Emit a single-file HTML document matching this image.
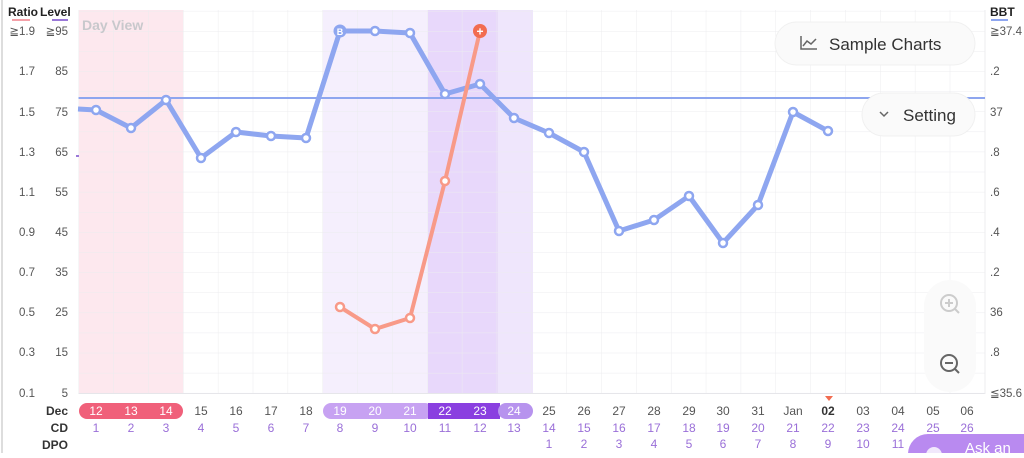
<!DOCTYPE html>
<html><head><meta charset="utf-8"><style>
body{margin:0;width:1024px;height:453px;overflow:hidden;background:#fff;font-family:"Liberation Sans",sans-serif;}
svg text{font-family:"Liberation Sans",sans-serif;}
</style></head><body>
<svg width="1024" height="453" viewBox="0 0 1024 453" xmlns="http://www.w3.org/2000/svg">
<defs>
<pattern id="g" x="78.5" y="31" width="34.85" height="20.11" patternUnits="userSpaceOnUse">
<path d="M0 0V20.11M0 0H34.85" stroke="#ececef" stroke-width="1" fill="none"/>
</pattern>
</defs>
<line x1="2" y1="0" x2="2" y2="453" stroke="#ddd" stroke-width="2"/>
<!-- shaded regions -->
<rect x="78.5" y="10" width="104.5" height="384" fill="#fde8ee"/>
<rect x="323" y="10" width="105" height="384" fill="#f5effd"/>
<rect x="428" y="10" width="70" height="384" fill="#e8d8fb"/>
<rect x="498" y="10" width="35" height="384" fill="#efe6fc"/>
<rect x="78.5" y="10" width="906" height="384" fill="url(#g)"/>
<line x1="78.5" y1="393.5" x2="985" y2="393.5" stroke="#e6e6ea"/>
<line x1="985" y1="10" x2="985" y2="394" stroke="#ececef"/>
<text x="82" y="30" font-size="14" font-weight="bold" fill="#c8c8cc">Day View</text>
<!-- left labels -->
<g font-size="12" fill="#444">
<text x="8" y="16" font-weight="bold" font-size="12" fill="#222">Ratio</text>
<text x="40" y="16" font-weight="bold" font-size="12" fill="#222">Level</text>
</g>
<line x1="12" y1="20" x2="30" y2="20" stroke="#f4a0a8" stroke-width="2"/>
<line x1="52" y1="20" x2="68" y2="20" stroke="#9a78d8" stroke-width="2"/>
<g font-size="11.5" fill="#555" text-anchor="end">
<text x="35" y="35">≧1.9</text><text x="68" y="35">≧95</text>
<text x="35" y="75">1.7</text><text x="68" y="75">85</text>
<text x="35" y="116">1.5</text><text x="68" y="116">75</text>
<text x="35" y="156">1.3</text><text x="68" y="156">65</text>
<text x="35" y="196">1.1</text><text x="68" y="196">55</text>
<text x="35" y="236">0.9</text><text x="68" y="236">45</text>
<text x="35" y="276">0.7</text><text x="68" y="276">35</text>
<text x="35" y="316">0.5</text><text x="68" y="316">25</text>
<text x="35" y="356">0.3</text><text x="68" y="356">15</text>
<text x="35" y="397">0.1</text><text x="68" y="397">5</text>
</g>
<line x1="76" y1="156" x2="79" y2="156" stroke="#9a78d8" stroke-width="2"/>
<!-- right labels -->
<text x="990" y="16" font-size="12" font-weight="bold" fill="#222">BBT</text>
<line x1="991" y1="20" x2="1008" y2="20" stroke="#8ea6f0" stroke-width="2"/>
<g font-size="11.5" fill="#555">
<text x="990" y="35">≧37.4</text><text x="990" y="75">.2</text><text x="990" y="116">37</text>
<text x="990" y="156">.8</text><text x="990" y="196">.6</text><text x="990" y="236">.4</text>
<text x="990" y="276">.2</text><text x="990" y="316">36</text><text x="990" y="356">.8</text>
<text x="990" y="397">≦35.6</text>
</g>
<!-- coverline -->
<line x1="78.5" y1="98" x2="985" y2="98" stroke="#8ea6ef" stroke-width="2"/>
<!-- blue line -->
<polyline fill="none" stroke="#8ea6f0" stroke-width="5" stroke-linejoin="round" points="78,109 96,110 131,128 166,100 201,158 236,132 271,136 306,138 340,31 375,31 410,33 445,94 480,84 514,118 549,133 584,152 619,231 654,220 689,196 723,243 758,205 793,112 828,131"/>
<g fill="#fff" stroke="#8ea6f0" stroke-width="2.5">
<circle cx="96" cy="110" r="4"/><circle cx="131" cy="128" r="4"/><circle cx="166" cy="100" r="4"/><circle cx="201" cy="158" r="4"/><circle cx="236" cy="132" r="4"/><circle cx="271" cy="136" r="4"/><circle cx="306" cy="138" r="4"/><circle cx="375" cy="31" r="4"/><circle cx="410" cy="33" r="4"/><circle cx="445" cy="94" r="4"/><circle cx="480" cy="84" r="4"/><circle cx="514" cy="118" r="4"/><circle cx="549" cy="133" r="4"/><circle cx="584" cy="152" r="4"/><circle cx="619" cy="231" r="4"/><circle cx="654" cy="220" r="4"/><circle cx="689" cy="196" r="4"/><circle cx="723" cy="243" r="4"/><circle cx="758" cy="205" r="4"/><circle cx="793" cy="112" r="4"/><circle cx="828" cy="131" r="4"/>
</g>
<circle cx="340" cy="31" r="6.5" fill="#8ea6f0"/>
<text x="340" y="35" font-size="9" fill="#fff" text-anchor="middle" font-weight="bold">B</text>
<!-- orange line -->
<polyline fill="none" stroke="#f89a88" stroke-width="4" stroke-linejoin="round" points="340,307 375,329 410,318 445,181 480,31"/>
<g fill="#fff" stroke="#f89a88" stroke-width="2.5">
<circle cx="340" cy="307" r="4"/><circle cx="375" cy="329" r="4"/><circle cx="410" cy="318" r="4"/><circle cx="445" cy="181" r="4"/>
</g>
<circle cx="480" cy="31" r="7" fill="#f26c50"/>
<text x="480" y="35.5" font-size="12" fill="#fff" text-anchor="middle" font-weight="bold">+</text>
<!-- buttons -->
<rect x="775" y="22" width="200" height="43" rx="21.5" fill="#fafafa" stroke="#f0f0f0"/>
<path d="M801 36v13h16M803 46l4-5 4 3 5-5" fill="none" stroke="#666" stroke-width="1.5"/>
<text x="829" y="50" font-size="17" fill="#333">Sample Charts</text>
<rect x="862" y="93" width="113" height="43" rx="21.5" fill="#fafafa" stroke="#f0f0f0"/>
<path d="M880 112l4 4 4-4" fill="none" stroke="#666" stroke-width="1.5"/>
<text x="903" y="121" font-size="17" fill="#333">Setting</text>
<rect x="924" y="280" width="52" height="112" rx="26" fill="#fafafa" opacity="0.9"/>
<circle cx="949" cy="303" r="8" fill="none" stroke="#ccc" stroke-width="2"/>
<path d="M945 303h8M949 299v8M955 309l4 4" stroke="#ccc" stroke-width="2"/>
<circle cx="949" cy="363" r="8" fill="none" stroke="#666" stroke-width="2"/>
<path d="M945 363h8M955 369l4 4" stroke="#666" stroke-width="2"/>
<!-- bottom axis -->
<path d="M825 396h8l-4 5z" fill="#f26c50"/>
<g font-size="12" font-weight="bold" fill="#333" text-anchor="end">
<text x="68" y="415">Dec</text><text x="68" y="432">CD</text><text x="68" y="449">DPO</text>
</g>
<rect x="79" y="403" width="104" height="16" rx="8" fill="#f0607a"/>
<rect x="323" y="403" width="110" height="16" rx="8" fill="#c7a2f2"/>
<rect x="428" y="403" width="72" height="16" fill="#8a3fe0"/>
<rect x="498" y="403" width="35" height="16" rx="8" fill="#b793ee"/>
<g font-size="12" text-anchor="middle" fill="#555">
<text x="96" y="415" fill="#fff">12</text><text x="131" y="415" fill="#fff">13</text><text x="166" y="415" fill="#fff">14</text>
<text x="201" y="415">15</text><text x="236" y="415">16</text><text x="271" y="415">17</text><text x="306" y="415">18</text>
<text x="340" y="415" fill="#fff">19</text><text x="375" y="415" fill="#fff">20</text><text x="410" y="415" fill="#fff">21</text>
<text x="445" y="415" fill="#fff">22</text><text x="480" y="415" fill="#fff">23</text><text x="514" y="415" fill="#fff">24</text>
<text x="549" y="415">25</text><text x="584" y="415">26</text><text x="619" y="415">27</text><text x="654" y="415">28</text>
<text x="689" y="415">29</text><text x="723" y="415">30</text><text x="758" y="415">31</text><text x="793" y="415">Jan</text>
<text x="828" y="415" font-weight="bold" fill="#333">02</text><text x="863" y="415">03</text><text x="898" y="415">04</text><text x="933" y="415">05</text><text x="967" y="415">06</text>
</g>
<g font-size="12" text-anchor="middle" fill="#9a6fd8">
<text x="96" y="432">1</text><text x="131" y="432">2</text><text x="166" y="432">3</text><text x="201" y="432">4</text><text x="236" y="432">5</text><text x="271" y="432">6</text><text x="306" y="432">7</text><text x="340" y="432">8</text><text x="375" y="432">9</text><text x="410" y="432">10</text><text x="445" y="432">11</text><text x="480" y="432">12</text><text x="514" y="432">13</text><text x="549" y="432">14</text><text x="584" y="432">15</text><text x="619" y="432">16</text><text x="654" y="432">17</text><text x="689" y="432">18</text><text x="723" y="432">19</text><text x="758" y="432">20</text><text x="793" y="432">21</text><text x="828" y="432">22</text><text x="863" y="432">23</text><text x="898" y="432">24</text><text x="933" y="432">25</text><text x="967" y="432">26</text>
<text x="549" y="448">1</text><text x="584" y="448">2</text><text x="619" y="448">3</text><text x="654" y="448">4</text><text x="689" y="448">5</text><text x="723" y="448">6</text><text x="758" y="448">7</text><text x="793" y="448">8</text><text x="828" y="448">9</text><text x="863" y="448">10</text><text x="898" y="448">11</text>
</g>
<rect x="908" y="434" width="140" height="40" rx="20" fill="#b98af0"/>
<circle cx="934" cy="455" r="8" fill="#fff" opacity="0.8"/>
<text x="965" y="453" font-size="15" fill="#fff">Ask an</text>
</svg>
</body></html>
